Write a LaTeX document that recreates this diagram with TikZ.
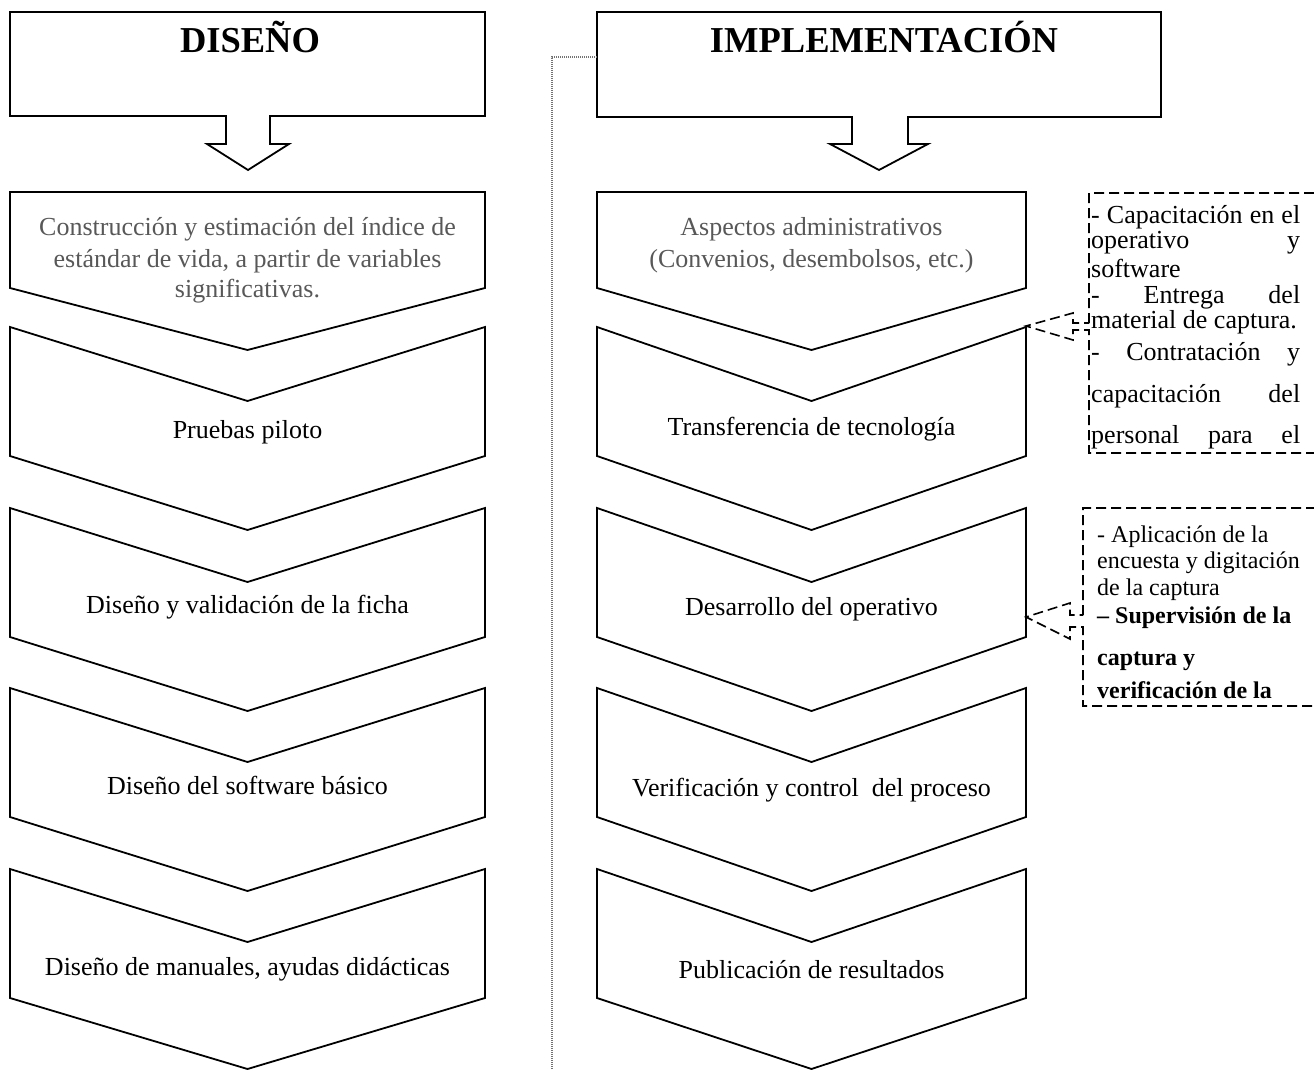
\documentclass[tikz,border=0pt]{standalone}
\usepackage{fontspec}
\setmainfont{Liberation Serif}
\definecolor{txtgray}{HTML}{585858}
\newcommand{\mychev}[6]{%
  \draw[shp] (#1,#3) -- ({(#1+#2)/2},#4) -- (#2,#3) -- (#2,#5) -- ({(#1+#2)/2},#6) -- (#1,#5) -- cycle;}
\begin{document}
\begin{tikzpicture}[x=1pt,y=-1pt,
  shp/.style={draw=black,line width=1.8pt,line join=miter},
  callout/.style={draw=black,line width=1.6pt,dash pattern=on 10pt off 5pt},
  dotline/.style={draw=gray!90!black,line width=1.1pt,dash pattern=on 1pt off 1pt},
  body/.style={font=\fontsize{26}{31}\selectfont,anchor=base,inner sep=0pt},
  gbody/.style={body,text=txtgray},
  ttl/.style={font=\fontsize{36.5}{40}\selectfont\bfseries,anchor=base,inner sep=0pt},
  note/.style={font=\fontsize{26}{30}\selectfont,anchor=base west,inner sep=0pt},
  notes/.style={font=\fontsize{24}{28}\selectfont,anchor=base west,inner sep=0pt},
  noteb/.style={font=\fontsize{24}{28}\selectfont\bfseries,anchor=base west,inner sep=0pt},
]
\useasboundingbox (0,0) rectangle (1314,1070);

% title boxes with block arrows
\draw[shp] (10,12) -- (485,12) -- (485,116) -- (270,116) -- (270,144) -- (289,144) -- (248,170)
  -- (207,144) -- (226,144) -- (226,116) -- (10,116) -- cycle;
\draw[shp] (597,12) -- (1161,12) -- (1161,117) -- (908,117) -- (908,144) -- (928,144) -- (879,170)
  -- (830,144) -- (852,144) -- (852,117) -- (597,117) -- cycle;
\node[ttl] (tD) at (250,53) {DISEÑO};
\node[ttl] (tI) at (884,53) {IMPLEMENTACIÓN};

% dotted separator
\coordinate (dA) at (597,57);
\coordinate (dB) at (552,57);
\coordinate (dC) at (552,1070);
\draw[dotline] (dA) -- (dB) -- (dC);

% left column chevrons
\mychev{10}{485}{192}{192}{288}{350}
\mychev{10}{485}{327}{401}{456}{530}
\mychev{10}{485}{508}{582}{637}{711}
\mychev{10}{485}{688}{762}{817}{891}
\mychev{10}{485}{869}{942}{998}{1069}
% right column chevrons
\mychev{597}{1026}{192}{192}{288}{350}
\mychev{597}{1026}{327}{401}{456}{530}
\mychev{597}{1026}{508}{582}{637}{711}
\mychev{597}{1026}{688}{762}{817}{891}
\mychev{597}{1026}{869}{942}{998}{1069}

% left texts
\node[gbody] (l1a) at (247.5,235) {Construcción y estimación del índice de};
\node[gbody] (l1b) at (247.5,267) {estándar de vida, a partir de variables};
\node[gbody] (l1c) at (247.5,297) {significativas.};
\node[body] (l2) at (247.5,438) {Pruebas piloto};
\node[body] (l3) at (247.5,613) {Diseño y validación de la ficha};
\node[body] (l4) at (247.5,794) {Diseño del software básico};
\node[body] (l5) at (247.5,975) {Diseño de manuales, ayudas didácticas};

% right texts
\node[gbody] (r1a) at (811.5,235) {Aspectos administrativos};
\node[gbody] (r1b) at (811.5,267) {(Convenios, desembolsos, etc.)};
\node[body] (r2) at (811.5,435) {Transferencia de tecnología};
\node[body] (r3) at (811.5,615) {Desarrollo del operativo};
\node[body] (r4) at (811.5,796) {Verificación y control\ \ del proceso};
\node[body] (r5) at (811.5,978) {Publicación de resultados};

% callout 1
\draw[callout] (1089,323) -- (1089,193) -- (1330,193) -- (1330,453) -- (1089,453) -- (1089,330)
  -- (1073,330) -- (1073,340) -- (1026,326) -- (1073,313) -- (1073,323) -- cycle;
\node[note] (n1) at (1091,223) {\makebox[209pt][s]{- Capacitación en el}};
\node[note] (n2) at (1091,248) {\makebox[209pt][s]{operativo y}};
\node[note] (n3) at (1091,277) {software};
\node[note] (n4) at (1091,303) {\makebox[209pt][s]{- Entrega del}};
\node[note] (n5) at (1091,328) {material de captura.};
\node[note] (n6) at (1091,360) {\makebox[209pt][s]{- Contratación y}};
\node[note] (n7) at (1091,402) {\makebox[209pt][s]{capacitación del}};
\node[note] (n8) at (1091,443) {\makebox[209pt][s]{personal para el}};

% callout 2
\draw[callout] (1083,615) -- (1083,508) -- (1330,508) -- (1330,706) -- (1083,706) -- (1083,627)
  -- (1070,627) -- (1070,639) -- (1026,617) -- (1070,603) -- (1070,615) -- cycle;
\node[notes] (m1) at (1097,542) {- Aplicación de la};
\node[notes] (m2) at (1097,568) {encuesta y digitación};
\node[notes] (m3) at (1097,595) {de la captura};
\node[noteb] (m4) at (1097,623) {– Supervisión de la};
\node[noteb] (m5) at (1097,665) {captura y};
\node[noteb] (m6) at (1097,698) {verificación de la};
\end{tikzpicture}
\end{document}
